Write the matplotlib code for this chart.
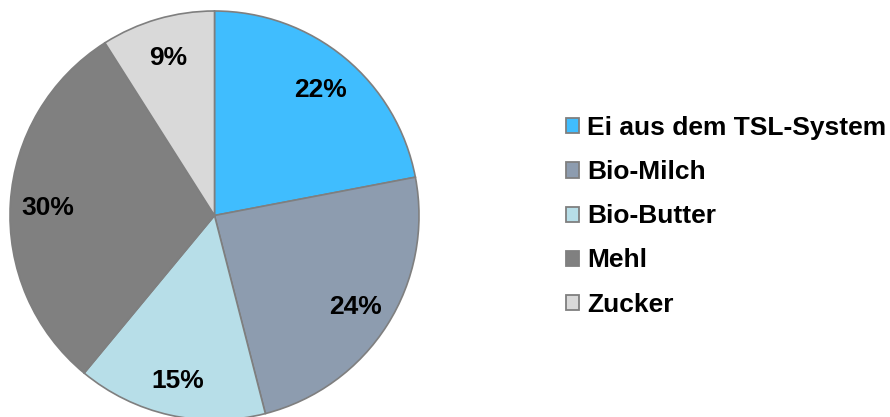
import matplotlib
matplotlib.use("Agg")
import matplotlib.pyplot as plt
from matplotlib.patches import Patch

labels = ["Ei aus dem TSL-System", "Bio-Milch", "Bio-Butter", "Mehl", "Zucker"]
values = [22, 24, 15, 30, 9]
colors = ["#40BDFE", "#8D9CAF", "#B7DEE8", "#808080", "#D9D9D9"]

plt.rcParams['font.family'] = ['Liberation Sans', 'DejaVu Sans']

fig = plt.figure(figsize=(8.9, 4.17), dpi=100)
ax = fig.add_axes([10/890, -3/417, 409/890, 409/417])
wedges, texts, autotexts = ax.pie(
    values, colors=colors, startangle=90, counterclock=False,
    autopct=lambda p: f"{p:.0f}%", pctdistance=0.815,
    wedgeprops=dict(edgecolor="#7F7F7F", linewidth=1.2),
    textprops=dict(fontsize=19, fontweight="bold", color="black"))
for t in autotexts:
    t.set_verticalalignment("center_baseline")
ax.set_xlim(-1, 1)
ax.set_ylim(-1, 1)
ax.set_aspect("equal")

handles = [Patch(facecolor=c, edgecolor="#7F7F7F", linewidth=1.3) for c in colors]
leg = fig.legend(handles, labels, loc="center left", bbox_to_anchor=(566/890, 0.481),
                 frameon=False, prop=dict(size=19, weight="bold"),
                 handlelength=0.5, handleheight=0.5, handletextpad=0.3,
                 labelspacing=0.76, borderaxespad=0, borderpad=0)
fig.savefig("out.png", dpi=100)
